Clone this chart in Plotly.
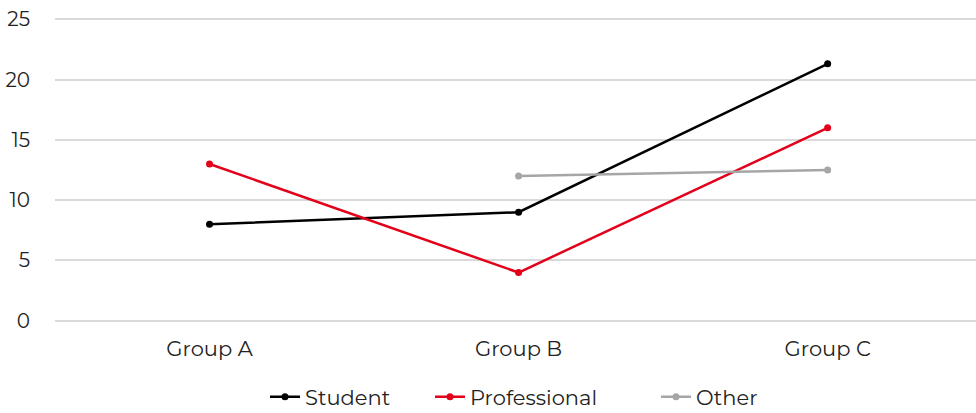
import plotly.graph_objects as go

categories = ["Group A", "Group B", "Group C"]
student = [8, 9, 21.3]
professional = [13, 4, 16]
other = [None, 12, 12.5]
y_ticks = [0, 5, 10, 15, 20, 25]

series = [
    ("Student", student, "#000000", "legend"),
    ("Professional", professional, "#e2001a", "legend2"),
    ("Other", other, "#a6a6a6", "legend3"),
]

fig = go.Figure()
for name, vals, color, lg in series:
    fig.add_trace(go.Scatter(
        x=[0, 1, 2], y=vals, name=name, mode="lines+markers",
        line=dict(color=color, width=2.5),
        marker=dict(color=color, size=7),
        connectgaps=False, legend=lg,
    ))

W, H = 976, 413
L, R, T, B = 55, 0, 18, 91
pw, ph = W - L - R, H - T - B

def lx(px):
    return (px - L) / pw

def ly(py):
    return (H - B - py) / ph

font = "Montserrat, 'Open Sans', 'DejaVu Sans', sans-serif"
leg_common = dict(orientation="h", xanchor="left", yanchor="middle",
                  y=ly(397), font=dict(size=21, color="#222222"),
                  bgcolor="rgba(0,0,0,0)")
fig.update_layout(
    width=W, height=H,
    margin=dict(l=L, r=R, t=T, b=B, autoexpand=False),
    paper_bgcolor="white", plot_bgcolor="white",
    font=dict(family=font, size=21, color="#222222"),
    showlegend=True,
    legend=dict(x=lx(265), **leg_common),
    legend2=dict(x=lx(430), **leg_common),
    legend3=dict(x=lx(656), **leg_common),
    xaxis=dict(tickmode="array", tickvals=[0, 1, 2], ticktext=categories,
               range=[-0.5, 2.48], showgrid=False, zeroline=False,
               showline=False, ticks="outside", ticklen=8, tickcolor="white",
               tickfont=dict(size=21)),
    yaxis=dict(range=[-0.1, 25.1], tickvals=y_ticks, showgrid=True,
               gridcolor="#d9d9d9", gridwidth=2, zeroline=False,
               showline=False, ticks="outside", ticklen=20, tickcolor="white",
               tickfont=dict(size=20)),
)
fig.write_html("out.html")
